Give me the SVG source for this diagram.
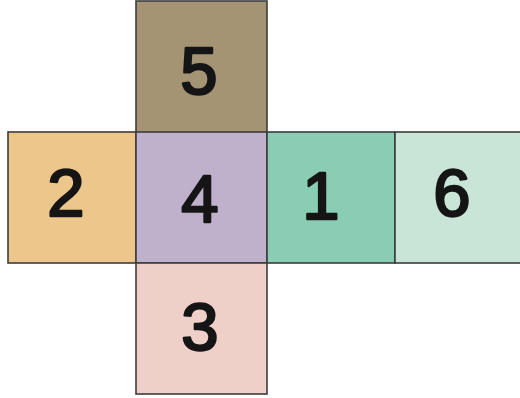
<svg xmlns="http://www.w3.org/2000/svg" width="520" height="398" viewBox="0 0 520 398">
<style>
.face{stroke:#3c3c3c;stroke-width:1.6}
.lbl{font-family:"Liberation Sans",Arial,sans-serif;font-size:67px;fill:#151515;stroke:#151515;stroke-width:2.4;stroke-linejoin:round;text-anchor:middle}
</style>
<rect width="520" height="398" fill="#ffffff"/>
<g id="face5"><rect class="face" x="136" y="1" width="131" height="132" fill="#a59474"/><text class="lbl" x="199" y="94">5</text></g>
<g id="face2"><rect class="face" x="8" y="132" width="128" height="131" fill="#edc68b"/><text class="lbl" x="66" y="216">2</text></g>
<g id="face4"><rect class="face" x="136" y="132" width="131" height="131" fill="#bfb0cb"/><text class="lbl" x="200" y="222">4</text></g>
<g id="face1"><rect class="face" x="267" y="132" width="128" height="131" fill="#88cdb4"/><text class="lbl" x="321" y="219">1</text></g>
<g id="face6"><rect class="face" x="395" y="132" width="130" height="131" fill="#c8e5d8"/><text class="lbl" x="452" y="216">6</text></g>
<g id="face3"><rect class="face" x="136" y="263" width="131" height="131" fill="#efd0c8"/><text class="lbl" x="200" y="350">3</text></g>
<g id="connectors"></g>
</svg>
